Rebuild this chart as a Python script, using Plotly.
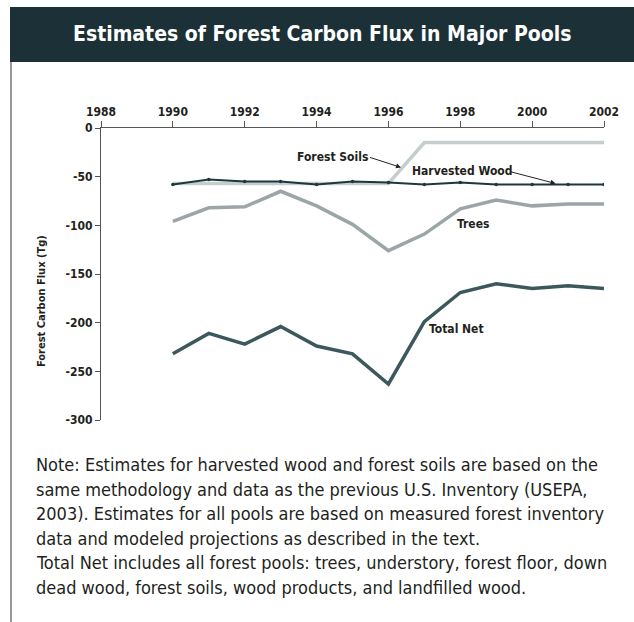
import plotly.graph_objects as go

# Annual carbon flux estimates (Tg) by forest pool
years = [1990, 1991, 1992, 1993, 1994, 1995, 1996, 1997, 1998, 1999, 2000, 2001, 2002]
forest_soils = [-57, -57, -57, -57, -57, -57, -57, -15, -15, -15, -15, -15, -15]
harvested_wood = [-58, -53, -55, -55, -58, -55, -56, -58, -56, -58, -58, -58, -58]
trees = [-96, -82, -81, -65, -80, -99, -126, -109, -83, -74, -80, -78, -78]
total_net = [-232, -211, -222, -204, -224, -232, -263, -199, -169, -160, -165, -162, -165]

x_ticks = [1988, 1990, 1992, 1994, 1996, 1998, 2000, 2002]
y_ticks = [0, -50, -100, -150, -200, -250, -300]

note_lines = [
    "Note: Estimates for harvested wood and forest soils are based on the",
    "same methodology and data as the previous U.S. Inventory (USEPA,",
    "2003). Estimates for all pools are based on measured forest inventory",
    "data and modeled projections as described in the text.",
    "Total Net includes all forest pools: trees, understory, forest floor, down",
    "dead wood, forest soils, wood products, and landfilled wood.",
]

W, H = 634, 622
L, R, T, B = 101, 30, 128, 202
PW, PH = W - L - R, H - T - B

def px(x):
    return (x - L) / PW

def py(y):
    return (H - B - y) / PH

COND = "DejaVu Sans Condensed, DejaVu Sans, sans-serif"
TXT = "#231f20"

fig = go.Figure()
fig.add_trace(go.Scatter(x=years, y=forest_soils, mode="lines",
                         line=dict(color="#c6cdce", width=3.5), name="Forest Soils"))
fig.add_trace(go.Scatter(x=years, y=trees, mode="lines",
                         line=dict(color="#9ca5a8", width=3.5), name="Trees"))
fig.add_trace(go.Scatter(x=years, y=total_net, mode="lines",
                         line=dict(color="#3c585d", width=3.5), name="Total Net"))
fig.add_trace(go.Scatter(x=years, y=harvested_wood, mode="lines+markers",
                         line=dict(color="#1c383c", width=2),
                         marker=dict(size=3.5, color="#1c383c"), name="Harvested Wood"))

tick_font = dict(size=12, family=COND, color=TXT, weight="bold")
fig.update_layout(
    width=W, height=H, showlegend=False,
    margin=dict(l=L, r=R, t=T, b=B),
    paper_bgcolor="white", plot_bgcolor="white",
    font=dict(family=COND, color=TXT),
    xaxis=dict(range=[1988, 2002], side="top", tickvals=x_ticks,
               ticktext=[str(v) for v in x_ticks],
               showgrid=False, zeroline=False, showline=True, linecolor="#555",
               linewidth=1, ticks="outside", ticklen=6, tickcolor="#555",
               tickfont=tick_font, fixedrange=True),
    yaxis=dict(range=[-300, 0], tickvals=y_ticks,
               ticktext=[str(v) for v in y_ticks],
               showgrid=False, zeroline=False, showline=True, linecolor="#555",
               linewidth=1, ticks="outside", ticklen=5, tickcolor="#555",
               tickfont=tick_font, fixedrange=True),
)

# Header band and frame line
fig.add_shape(type="rect", xref="paper", yref="paper",
              x0=px(10), x1=px(634), y0=py(62), y1=py(7),
              fillcolor="#1b3137", line=dict(width=0), layer="above")
fig.add_shape(type="line", xref="paper", yref="paper",
              x0=px(11), x1=px(11), y0=py(62), y1=py(622),
              line=dict(color="#333", width=1))

fig.add_annotation(xref="paper", yref="paper", x=px(322), y=py(34),
                   text="Estimates of Forest Carbon Flux in Major Pools",
                   showarrow=False, xanchor="center", yanchor="middle",
                   font=dict(size=21, color="white", family=COND, weight="bold"))

# Vertical axis title
fig.add_annotation(xref="paper", yref="paper", x=px(41), y=py(301),
                   text="Forest Carbon Flux (Tg)", textangle=-90,
                   showarrow=False, xanchor="center", yanchor="middle",
                   font=dict(size=11, family=COND, color=TXT, weight="bold"))

# Series labels
lab = dict(size=12, family=COND, color=TXT, weight="bold")
fig.add_annotation(x=1996.35, y=-40.5, xref="x", yref="y", text="Forest Soils",
                   ax=-31, ay=-10, showarrow=True, arrowhead=2, arrowsize=1,
                   arrowwidth=1, arrowcolor="#222", xanchor="right", font=lab,
                   standoff=0)
fig.add_annotation(x=1998.05, y=-44, xref="x", yref="y", text="Harvested Wood",
                   showarrow=False, font=lab)
fig.add_annotation(x=2000.65, y=-57, xref="x", yref="y", text="",
                   ax=-46, ay=-12, showarrow=True, arrowhead=2, arrowsize=1,
                   arrowwidth=1, arrowcolor="#222")
fig.add_annotation(x=1998.35, y=-98.5, xref="x", yref="y", text="Trees",
                   showarrow=False, font=lab)
fig.add_annotation(x=1997.9, y=-206, xref="x", yref="y", text="Total Net",
                   showarrow=False, font=lab)

# Footnote, one annotation per line
for i, line in enumerate(note_lines):
    fig.add_annotation(xref="paper", yref="paper", x=px(34), y=py(464.5 + i * 24.6),
                       text=line, showarrow=False, xanchor="left", yanchor="middle",
                       align="left", font=dict(size=18, family=COND, color="#231f20"))

fig.write_html("out.html")
